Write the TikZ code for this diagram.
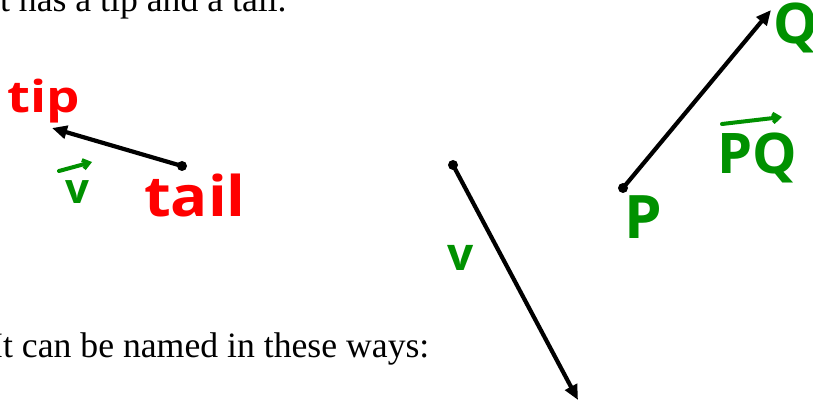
\documentclass[tikz,border=0pt]{standalone}
\usepackage{fontspec}
\setmainfont{Liberation Serif}
\newfontfamily\hand{Open Sans}
\usetikzlibrary{arrows.meta}
\definecolor{penred}{RGB}{255,0,0}
\definecolor{pengreen}{RGB}{0,145,0}
\tikzset{
  body/.style={anchor=base west,inner sep=0pt,font=\fontsize{35.7}{36}\selectfont},
  vecline/.style={line width=4.2pt,-{Triangle[length=15pt,width=13pt]}},
  overarrow/.style={draw=pengreen,line width=4pt,line cap=round,-{Straight Barb[length=6pt,width=9pt,line width=4pt]}},
  redlab/.style={text=penred,inner sep=0pt},
  greenlab/.style={text=pengreen,inner sep=0pt},
}
\newcommand{\hs}[1]{\hand\bfseries\fontsize{#1}{#1}\selectfont}
\begin{document}
\begin{tikzpicture}[x=1pt,y=-1pt]
\useasboundingbox (0,0) rectangle (813,403);
\clip (0,0) rectangle (813,403);
% body text
\node[body] (line1) at (-12,12) {It has a tip and a tail.};
\node[body] (line2) at (-9,357) {It can be named in these ways:};
% first vector
\coordinate (tailpt) at (182,166);
\coordinate (tippt) at (52,128);
\draw[vecline] (tailpt) -- (tippt);
\fill (tailpt) circle (5);
\node[redlab] (tiplab) at (44,101) {\hs{44}\scalebox{1.2}[1]{tip}};
\node[redlab] (taillab) at (195,196) {\hs{56}\scalebox{1.1}[1]{tail}};
\node[greenlab] (vlab) at (77,192) {\hs{42}v};
\coordinate (varrowL) at (59,171);
\coordinate (varrowR) at (92,162);
\draw[overarrow] (varrowL) -- (varrowR);
% second vector
\coordinate (vstart) at (453,165);
\coordinate (vend) at (578,400);
\draw[vecline] (vstart) -- (vend);
\fill (vstart) circle (5);
\node[greenlab] (bv) at (461,258) {\hs{46}v};
% third vector
\coordinate (ppt) at (623,188);
\coordinate (qpt) at (771,10);
\draw[vecline] (ppt) -- (qpt);
\fill (ppt) circle (5);
\node[greenlab] (plab) at (643,217) {\hs{60}P};
\node[greenlab] (qlab) at (796,28) {\hs{56}Q};
\node[greenlab] (pqlab) at (757,158) {\hs{56}PQ};
\coordinate (pqarrowL) at (722,124);
\coordinate (pqarrowR) at (782,117);
\draw[overarrow] (pqarrowL) -- (pqarrowR);
\end{tikzpicture}
\end{document}
